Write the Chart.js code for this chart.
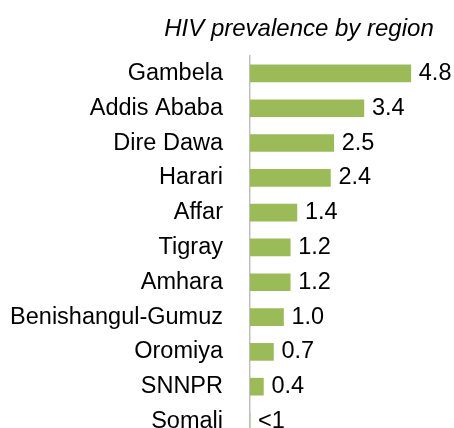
<!DOCTYPE html>
<html>
<head>
<meta charset="utf-8">
<script src="https://cdn.jsdelivr.net/npm/chart.js@4"></script>
<style>
  html, body { margin: 0; padding: 0; background: #fff; overflow: hidden; }
  canvas { display: block; }
</style>
</head>
<body>
<canvas id="hivChart" width="454" height="472"></canvas>
<script>
const chartTitle = "HIV prevalence by region";

const regions = ["Gambela", "Addis Ababa", "Dire Dawa", "Harari", "Affar", "Tigray",
    "Amhara", "Benishangul-Gumuz", "Oromiya", "SNNPR", "Somali"];

const prevalence = [4.8, 3.4, 2.5, 2.4, 1.4, 1.2, 1.2, 1.0, 0.7, 0.4, 0];

const valueLabels = ["4.8", "3.4", "2.5", "2.4", "1.4", "1.2", "1.2", "1.0", "0.7", "0.4", "<1"];

const font = "Liberation Sans, Arial, sans-serif";

// value labels to the right of each bar
const barLabels = {
    id: "barLabels",
    afterDatasetsDraw(chart) {
        const ctx = chart.ctx;
        const meta = chart.getDatasetMeta(0);
        ctx.save();
        ctx.font = "23.5px " + font;
        ctx.fillStyle = "#000";
        ctx.textAlign = "left";
        ctx.textBaseline = "middle";
        meta.data.forEach((bar, i) => {
            ctx.fillText(valueLabels[i], bar.x + 8, bar.y);
        });
        ctx.restore();
    }
};

// italic title, centred over the bars + labels
const titleText = {
    id: "titleText",
    afterDraw(chart) {
        const ctx = chart.ctx;
        ctx.save();
        ctx.font = "italic 24px " + font;
        ctx.fillStyle = "#000";
        ctx.textAlign = "center";
        ctx.textBaseline = "alphabetic";
        ctx.fillText(chartTitle, 299, 36);
        ctx.restore();
    }
};

new Chart(document.getElementById("hivChart"), {
    type: "bar",
    data: {
        labels: regions,
        datasets: [{
            label: "HIV prevalence",
            data: prevalence,
            backgroundColor: "#9BBB59",
            borderWidth: 0,
            barThickness: 17
        }]
    },
    options: {
        indexAxis: "y",
        responsive: false,
        animation: false,
        layout: { padding: { top: 56, right: 3, left: 0, bottom: 0 } },
        plugins: {
            legend: { display: false },
            title: { display: false },
            tooltip: { enabled: false }
        },
        scales: {
            x: {
                display: false,
                min: 0,
                max: 6
            },
            y: {
                z: 1,
                grid: { display: false },
                border: { display: true, color: "#BFBFBF", width: 1.5 },
                ticks: {
                    color: "#000",
                    font: { family: font, size: 23.5 },
                    padding: 19,
                    autoSkip: false
                },
                afterFit(scale) {
                    scale.width = 250;
                }
            }
        }
    },
    plugins: [barLabels, titleText]
});
</script>
</body>
</html>
